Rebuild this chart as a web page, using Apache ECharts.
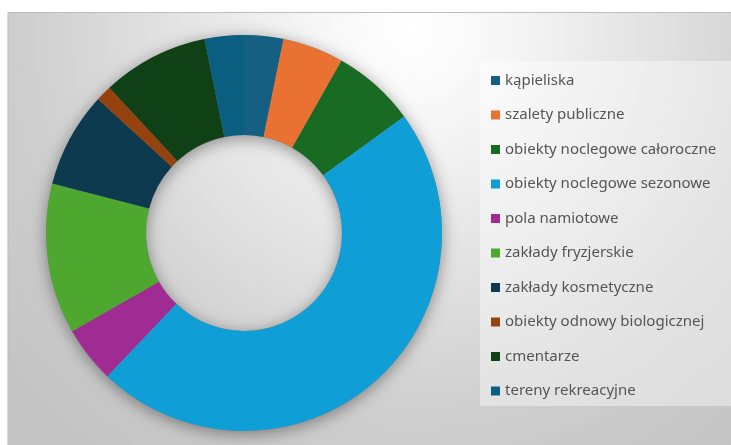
<!DOCTYPE html>
<html>
<head>
<meta charset="utf-8">
<script src="https://cdn.jsdelivr.net/npm/echarts@6/dist/echarts.min.js"></script>
<style>
  html, body { margin: 0; padding: 0; background: #ffffff; }
  #chart { width: 731px; height: 445px; }
</style>
</head>
<body>
<div id="chart"></div>
<script>
const categories = [
  'kąpieliska',
  'szalety publiczne',
  'obiekty noclegowe całoroczne',
  'obiekty noclegowe sezonowe',
  'pola namiotowe',
  'zakłady fryzjerskie',
  'zakłady kosmetyczne',
  'obiekty odnowy biologicznej',
  'cmentarze',
  'tereny rekreacyjne'
];
const values = [3.2, 5.0, 6.8, 47.2, 4.6, 12.3, 7.8, 1.3, 8.7, 3.2];
const colors = ['#156082', '#E97132', '#196B24', '#0F9ED5', '#A02B93',
                '#4EA72E', '#0D3A4E', '#96420F', '#0F4016', '#0A5F80'];

const chart = echarts.init(document.getElementById('chart'), null, { renderer: 'canvas' });

const bgGradient = new echarts.graphic.RadialGradient(410, 30, 540, [
  { offset: 0, color: '#FFFFFF' },
  { offset: 0.18, color: '#F6F6F6' },
  { offset: 0.45, color: '#E2E2E2' },
  { offset: 0.72, color: '#CECECE' },
  { offset: 1, color: '#C3C3C3' }
], true);

const option = {
  animation: false,
  backgroundColor: '#ffffff',
  graphic: [
    {
      type: 'rect', z: -20, silent: true,
      shape: { x: 8, y: 12.5, width: 740, height: 450 },
      style: { fill: bgGradient, stroke: '#BDBDBD', lineWidth: 1 }
    },
    {
      type: 'rect', z: -5, silent: true,
      shape: { x: 480, y: 61, width: 260, height: 345 },
      style: { fill: 'rgba(255,255,255,0.4)' }
    }
  ],
  legend: {
    orient: 'vertical',
    left: 486,
    top: 67.5,
    itemWidth: 9,
    itemHeight: 9,
    itemGap: 18.5,
    icon: 'rect',
    data: categories,
    textStyle: {
      fontFamily: 'Noto Sans',
      fontSize: 15,
      lineHeight: 16,
      color: '#555555'
    }
  },
  series: [
    {
      type: 'pie',
      silent: true,
      center: [244, 233],
      radius: [98, 198],
      label: { show: false },
      labelLine: { show: false },
      data: [{ value: 1, name: '__ring', itemStyle: {
        color: '#888888',
        shadowBlur: 16,
        shadowOffsetY: 3,
        shadowColor: 'rgba(0,0,0,0.4)'
      } }],
      z: 1
    },
    {
      type: 'pie',
      center: [244, 233],
      radius: [98, 198],
      startAngle: 90,
      clockwise: true,
      label: { show: false },
      labelLine: { show: false },
      itemStyle: { borderWidth: 0 },
      color: colors,
      data: categories.map((name, i) => ({ name: name, value: values[i] })),
      z: 2
    }
  ]
};
chart.setOption(option);
</script>
</body>
</html>
